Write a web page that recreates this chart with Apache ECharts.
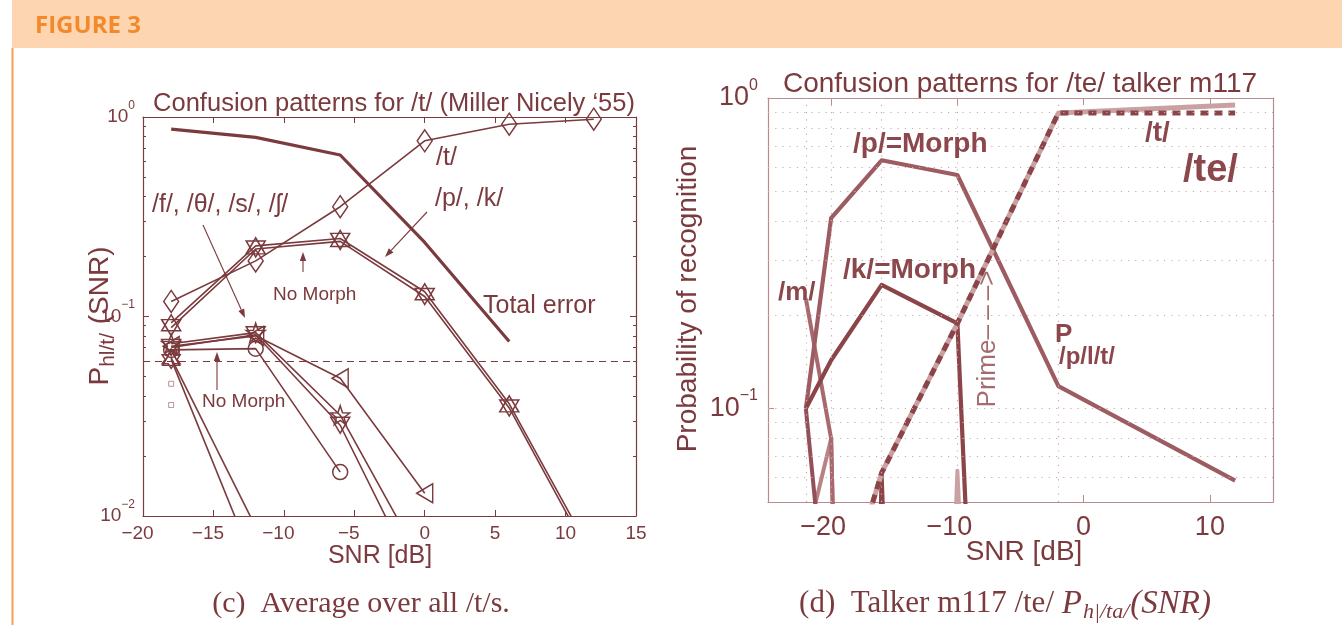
<!DOCTYPE html>
<html>
<head>
<meta charset="utf-8">
<script src="https://cdn.jsdelivr.net/npm/echarts@6.0.0/dist/echarts.min.js"></script>
<style>
html,body{margin:0;padding:0;background:#ffffff;}
#chart{width:1342px;height:625px;}
</style>
</head>
<body>
<div id="chart"></div>
<script>
// ---------------- data: panel (c) Miller & Nicely average over all /t/s ----------------
const snrMN = [-18, -12, -6, 0, 6, 12];
const totalError = [0.87, 0.79, 0.645, 0.235, 0.075, null];
const tCorrect  = [0.119, 0.19, 0.355, 0.76, 0.92, 0.975];
const pConf     = [0.093, 0.226, 0.246, 0.133, 0.0365, 0.0062];
const kConf     = [0.088, 0.218, 0.238, 0.126, 0.0348, 0.0058];
const fConf     = [0.068, 0.069, 0.0166, null, null, null];
const thConf    = [0.071, 0.080, 0.049, 0.013, null, null];
const sConf     = [0.073, 0.083, 0.032, 0.0055, null, null];
const shConf    = [0.070, 0.081, 0.0285, 0.0040, null, null];
const dConf     = [0.061, 0.0055, null, null, null, null];
const bConf     = [0.062, 0.0088, null, null, null, null];
const isolatedSNR = [-18, -18];
const isolatedVal = [0.046, 0.036];
const chanceLevel = 0.0625;

// ---------------- data: panel (d) talker m117 /te/ ----------------
const snrPA   = [-22, -20, -16, -10, -2, 12];
const pMorph  = [0.10, 0.41, 0.63, 0.565, 0.118, 0.0586];
const kMorph  = [0.10, 0.143, 0.25, 0.188, 1e-8, 1e-8];
const mConf   = [0.226, 0.080, 1e-8, 1e-8, 1e-8, 1e-8];
const lowA    = [0.10, 0.015, 1e-8, 1e-8, 1e-8, 1e-8];
const lowB    = [0.037, 0.080, 1e-8, 1e-8, 1e-8, 1e-8];
const tSolid  = [1e-8, 0.018, 0.062, 0.188, 0.895, 0.95];
const tDashed = [1e-8, 0.018, 0.062, 0.188, 0.895, 0.895];
const lowC    = [1e-8, 1e-8, 0.062, 1e-8, 1e-8, 1e-8];
const lowD    = [1e-8, 1e-8, 1e-8, 0.063, 1e-8, 1e-8];

// tick / grid values
const xTicksRight = [-20, -10, 0, 10];
const gridYRight = [0.06, 0.07, 0.08, 0.09, 0.1, 0.2, 0.3, 0.4, 0.5, 0.6, 0.7, 0.8, 0.9];
const gridXRight = [-22, -20, -16, -10, -2];

// ---------------- styling ----------------
const C1 = '#7b3a3d';
const C_MED = '#9d5c61';
const C_DARK = '#8b4448';
const C_M = '#a8696e';
const C_LIGHT = '#c9a1a3';
const C_FRAME2 = '#b88c8f';
const SANS = "'Liberation Sans', 'DejaVu Sans', Arial, sans-serif";
const SERIF = "'Liberation Serif', 'DejaVu Serif', serif";

function pairs(xs, ys) { return xs.map((x, i) => [x, ys[i]]); }
// negative labels are centred on their digits (minus sign hangs to the left)
function minusFmt(v) { return v < 0 ? '{n|\u2212' + (-v) + '}' : '{p|' + v + '}'; }
function xRich(size) {
  return { n: { fontSize: size, fontFamily: SANS, color: C1, padding: [0, Math.round(size * 0.584), 0, 0] },
           p: { fontSize: size, fontFamily: SANS, color: C1 } };
}
function logFmt(v) {
  const e = Math.log10(v), r = Math.round(e);
  if (Math.abs(e - r) > 1e-6) return '';
  return '{b|10}{s|' + (r < 0 ? '\u2212' + (-r) : String(r)) + '}';
}
function starPath(n, r1, r2) {
  let d = '';
  for (let i = 0; i < 2 * n; i++) {
    const r = i % 2 ? r2 : r1;
    const a = -Math.PI / 2 + i * Math.PI / n;
    d += (i ? 'L' : 'M') + (50 + r * Math.cos(a)).toFixed(2) + ' ' + (50 + r * Math.sin(a)).toFixed(2);
  }
  return 'path://' + d + 'Z';
}
const PENTA = starPath(5, 50, 20);
const HEXA = starPath(6, 50, 29);

const hollow = { color: 'rgba(255,255,255,0)', borderColor: C1, borderWidth: 1.5 };

function leftLine(name, ys, symbol, size, extra) {
  return Object.assign({
    type: 'line', name, xAxisIndex: 0, yAxisIndex: 0, data: pairs(snrMN, ys),
    symbol: symbol || 'none', symbolSize: size || 0, showSymbol: !!symbol,
    itemStyle: hollow, lineStyle: { color: C1, width: 1.6, join: 'round' },
    silent: true, animation: false, z: 3
  }, extra || {});
}
function rightLine(name, ys, color, width, extra) {
  return Object.assign({
    type: 'line', name, xAxisIndex: 2, yAxisIndex: 2, data: pairs(snrPA, ys),
    symbol: 'none', lineStyle: { color, width, join: 'round', cap: 'butt' },
    silent: true, animation: false, z: 3
  }, extra || {});
}

const series = [
  { type: 'line', xAxisIndex: 0, yAxisIndex: 0, data: [], silent: true, animation: false,
    markLine: { silent: true, symbol: ['none', 'none'], label: { show: false }, animation: false,
      lineStyle: { color: C1, width: 1.2, type: [7, 5] }, data: [{ yAxis: chanceLevel }] } },
  leftLine('Total error', totalError, null, 0, { lineStyle: { color: C1, width: 3.2, join: 'round' } }),
  leftLine('/t/', tCorrect, 'diamond', [15, 22]),
  leftLine('/p/', pConf, 'triangle', [19, 16]),
  leftLine('/k/', kConf, 'triangle', [19, 16], { symbolRotate: 180 }),
  leftLine('/f/', fConf, 'circle', 15),
  leftLine('/θ/', thConf, 'triangle', [19, 16], { symbolRotate: 90 }),
  leftLine('/s/', sConf, PENTA, 19),
  leftLine('/ʃ/', shConf, 'triangle', [19, 16], { symbolRotate: 180 }),
  leftLine('/d/', dConf, HEXA, 18),
  leftLine('/b/', bConf, 'triangle', [17, 15]),
  { type: 'scatter', xAxisIndex: 0, yAxisIndex: 0, data: pairs(isolatedSNR, isolatedVal),
    symbol: 'rect', symbolSize: 5, itemStyle: { color: 'rgba(255,255,255,0)', borderColor: '#a87a7d', borderWidth: 1 },
    silent: true, animation: false },

  { type: 'line', xAxisIndex: 2, yAxisIndex: 2, data: [], silent: true, animation: false,
    markLine: { silent: true, symbol: ['none', 'none'], label: { show: false }, animation: false,
      lineStyle: { color: '#cfa9ab', width: 1.2, type: [1.2, 6] },
      data: gridYRight.map(v => ({ yAxis: v })).concat(gridXRight.map(v => ({ xAxis: v }))) } },
  rightLine('lowB', lowB, '#b98386', 4),
  rightLine('lowD', lowD, C_LIGHT, 4),
  rightLine('/m/', mConf, C_M, 4),
  rightLine('lowA', lowA, '#94505a', 4),
  rightLine('lowC', lowC, C_DARK, 4),
  rightLine('/p/=Morph', pMorph, C_MED, 4.2),
  rightLine('/k/=Morph', kMorph, C_DARK, 4.2),
  rightLine('/t/ solid', tSolid, C_LIGHT, 5),
  rightLine('/t/ dashed', tDashed, C_DARK, 5, { lineStyle: { color: C_DARK, width: 5, type: [8, 6], cap: 'butt' } })
];

function axisCommon(color, labelShow) {
  return {
    axisLine: { show: true, onZero: false, lineStyle: { color, width: 1.2 } },
    axisTick: { show: true, inside: true, length: 6, lineStyle: { color, width: 1 } },
    splitLine: { show: false },
    axisLabel: { show: labelShow }
  };
}

const xAxis = [
  Object.assign({ gridIndex: 0, type: 'value', min: -20, max: 15, interval: 5, position: 'bottom' }, axisCommon(C1, true),
    { axisLabel: { show: true, formatter: minusFmt, color: C1, fontSize: 19, fontFamily: SANS, margin: 8, rich: xRich(19) } }),
  Object.assign({ gridIndex: 0, type: 'value', min: -20, max: 15, interval: 5, position: 'top' }, axisCommon(C1, false)),
  Object.assign({ gridIndex: 1, type: 'value', min: -25, max: 15, position: 'bottom' }, axisCommon(C_FRAME2, true),
    { axisTick: { show: true, inside: true, length: 7, lineStyle: { color: C_FRAME2 }, customValues: xTicksRight },
      axisLabel: { show: true, formatter: minusFmt, color: C1, fontSize: 27, fontFamily: SANS, margin: 12,
        customValues: xTicksRight, rich: xRich(27) } }),
  Object.assign({ gridIndex: 1, type: 'value', min: -25, max: 15, position: 'top' }, axisCommon(C_FRAME2, false),
    { axisTick: { show: true, inside: true, length: 7, lineStyle: { color: C_FRAME2 }, customValues: xTicksRight } })
];

const yAxis = [
  Object.assign({ gridIndex: 0, type: 'log', logBase: 10, min: 0.01, max: 1, position: 'left' }, axisCommon(C1, true),
    { minorTick: { show: true, splitNumber: 9, length: 3, lineStyle: { color: C1 } },
      axisLabel: { show: true, formatter: logFmt, margin: 8, color: C1, fontFamily: SANS,
        rich: { b: { fontSize: 19, color: C1, fontFamily: SANS, padding: [8, 0, 8, 0] },
                s: { fontSize: 12, color: C1, fontFamily: SANS, lineHeight: 12, verticalAlign: 'top' } } } }),
  Object.assign({ gridIndex: 0, type: 'log', logBase: 10, min: 0.01, max: 1, position: 'right' }, axisCommon(C1, false),
    { minorTick: { show: true, splitNumber: 9, length: 3, lineStyle: { color: C1 } } }),
  Object.assign({ gridIndex: 1, type: 'log', logBase: 10, min: 0.05, max: 1, position: 'left' }, axisCommon(C_FRAME2, true),
    { axisLabel: { show: true, formatter: logFmt, margin: 10, color: C1, fontFamily: SANS,
        rich: { b: { fontSize: 27, color: C1, fontFamily: SANS, padding: [7, 0, 7, 0] },
                s: { fontSize: 16, color: C1, fontFamily: SANS, lineHeight: 16, verticalAlign: 'top' } } } }),
  Object.assign({ gridIndex: 1, type: 'log', logBase: 10, min: 0.05, max: 1, position: 'right' }, axisCommon(C_FRAME2, false),
    { axisTick: { show: false } })
];

// ---------------- annotations ----------------
function txt(x, y, text, size, opts) {
  return { type: 'text', x, y, silent: true, z: 10,
    style: Object.assign({ text, fontSize: size, fontFamily: SANS, fill: C1, align: 'left', verticalAlign: 'middle' }, opts || {}) };
}
function arrow(x1, y1, x2, y2, color) {
  const ang = Math.atan2(y2 - y1, x2 - x1), L = 9, W = 3.2;
  const bx = x2 - L * Math.cos(ang), by = y2 - L * Math.sin(ang);
  const px = -Math.sin(ang) * W, py = Math.cos(ang) * W;
  return [
    { type: 'line', silent: true, z: 10, shape: { x1, y1, x2: bx, y2: by }, style: { stroke: color, lineWidth: 1.1 } },
    { type: 'polygon', silent: true, z: 10, shape: { points: [[x2, y2], [bx + px, by + py], [bx - px, by - py]] }, style: { fill: color } }
  ];
}

const graphic = [
  { type: 'rect', silent: true, z: 0, shape: { x: 12, y: 0, width: 1330, height: 48 }, style: { fill: '#fdd5b1' } },
  txt(35, 26, 'FIGURE 3', 24, { fontFamily: "'Open Sans', 'Liberation Sans', sans-serif", fontWeight: 'bold', fill: '#f28a2c' }),
  { type: 'line', silent: true, z: 0, shape: { x1: 12.5, y1: 48, x2: 12.5, y2: 625 }, style: { stroke: '#f4a057', lineWidth: 2 } },

  // panel c texts
  txt(394, 104, 'Confusion patterns for /t/ (Miller Nicely \u201855)', 25.5, { align: 'center' }),
  txt(436, 158, '/t/', 25),
  txt(435, 199, '/p/, /k/', 25),
  txt(483, 306, 'Total error', 25),
  txt(152, 205, '/f/, /\u03b8/, /s/, /\u0283/', 25),
  txt(273, 295, 'No Morph', 19),
  txt(202, 402, 'No Morph', 19),
  ...arrow(203, 225, 245, 318, C1),
  ...arrow(427, 212, 385, 257, C1),
  ...arrow(303, 272, 303, 252, C1),
  ...arrow(217, 390, 217, 352, C1),
  txt(380, 556, 'SNR [dB]', 25, { align: 'center' }),
  { type: 'text', x: 100, y: 316, rotation: Math.PI / 2, silent: true, z: 10,
    style: { text: '{p|P}{s|hl/t/}{p| (SNR)}', align: 'center', verticalAlign: 'middle', fill: C1,
      rich: { p: { fontSize: 28, fontFamily: SANS, fill: C1 },
              s: { fontSize: 21, fontFamily: SANS, fill: C1, padding: [16, 1, 0, 0] } } } },
  txt(361, 604, '(c)  Average over all /t/s.', 30, { fontFamily: SERIF, align: 'center' }),

  // panel d texts
  txt(1020, 84, 'Confusion patterns for /te/ talker m117', 28, { align: 'center' }),
  txt(853, 144, '/p/=Morph', 28, { fontWeight: 'bold', fill: '#8b474b' }),
  txt(843, 270, '/k/=Morph', 28, { fontWeight: 'bold', fill: '#8b474b' }),
  txt(778, 293, '/m/', 26, { fontWeight: 'bold', fill: '#8b474b' }),
  txt(1145, 133, '/t/', 28, { fontWeight: 'bold', fill: '#8b474b' }),
  txt(1183, 171, '/te/', 38, { fontWeight: 'bold', fill: '#8b474b' }),
  txt(1055, 335, 'P', 26, { fontWeight: 'bold', fill: '#8b474b' }),
  txt(1059, 357, '/p/l/t/', 24, { fontWeight: 'bold', fill: '#8b474b' }),
  { type: 'text', x: 988, y: 339, rotation: Math.PI / 2, silent: true, z: 10,
    style: { text: 'Prime\u2013\u2009\u2013\u2009\u2013>', fontSize: 26, fontFamily: SANS, fill: '#a56c70', align: 'center', verticalAlign: 'middle' } },
  { type: 'text', x: 688, y: 299, rotation: Math.PI / 2, silent: true, z: 10,
    style: { text: 'Probability of recognition', fontSize: 28, fontFamily: SANS, fill: C1, align: 'center', verticalAlign: 'middle' } },
  txt(1024, 552, 'SNR [dB]', 28, { align: 'center' }),
  { type: 'text', x: 1005, y: 604, silent: true, z: 10,
    style: { text: '{n|(d)  Talker m117 /te/ }{i|P}{sub|h|/ta/}{i|(SNR)}', align: 'center', verticalAlign: 'middle', fill: C1,
      rich: { n: { fontSize: 31, fontFamily: SERIF, fill: C1 },
              i: { fontSize: 33, fontFamily: SERIF, fontStyle: 'italic', fill: C1 },
              sub: { fontSize: 22, fontFamily: SERIF, fontStyle: 'italic', fill: C1, padding: [16, 1, 0, 1] } } } }
];

const chart = echarts.init(document.getElementById('chart'), null, { renderer: 'canvas' });
chart.setOption({
  animation: false,
  backgroundColor: '#ffffff',
  grid: [
    { left: 143, top: 117, width: 493, height: 399, outerBoundsMode: 'none', containLabel: false },
    { left: 768, top: 98, width: 505, height: 404, outerBoundsMode: 'none', containLabel: false }
  ],
  xAxis, yAxis, series, graphic
});
</script>
</body>
</html>
